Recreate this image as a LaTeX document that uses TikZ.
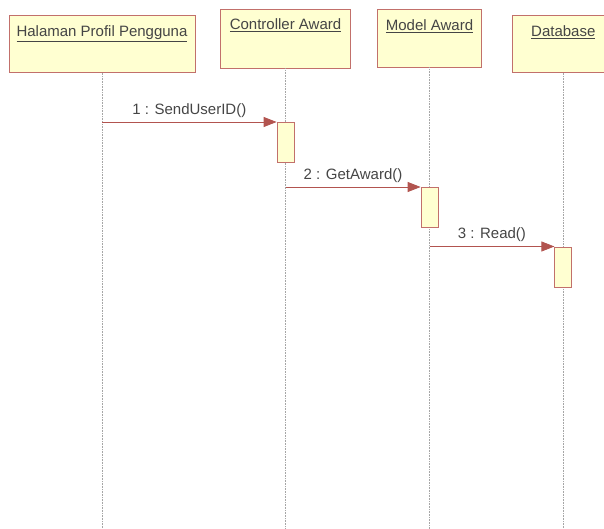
\documentclass[tikz,border=0pt]{standalone}
\usepackage{fontspec}
\setmainfont{Liberation Sans}
\usepackage{tikz}
\usetikzlibrary{arrows.meta, positioning}
\definecolor{headfill}{rgb}{1.00,1.00,0.82}
\definecolor{headline}{rgb}{0.76,0.44,0.42}
\definecolor{msgred}{rgb}{0.70,0.33,0.31}
\definecolor{textgray}{rgb}{0.27,0.27,0.27}

\begin{document}
\begin{tikzpicture}[
  x=1pt, y=1pt,
  objbox/.style   = {draw=headline, fill=headfill, line width=0.8pt, inner sep=0pt},
  objtext/.style  = {font=\fontsize{15}{18}\selectfont, text=textgray},
  actbox/.style   = {draw=headline, fill=headfill, line width=0.8pt, inner sep=0pt,
                     minimum width=17pt, minimum height=40pt},
  lifeline/.style = {draw=gray!70, densely dotted, line width=0.6pt},
  msg/.style      = {-{Triangle[length=13pt, width=10pt]}, draw=msgred, line width=0.8pt},
  msgtext/.style  = {font=\fontsize{15}{18}\selectfont, text=textgray, above=1pt, midway},
]
\useasboundingbox (0,0) rectangle (604,-529);
\coordinate (bottom) at (0,-529);

%% ==================== OBJECTS ====================
\node[objbox, minimum width=186pt, minimum height=57.5pt] (halaman) at (102,-43.75) {};
\node[objtext, anchor=north] (halamantext) at ([yshift=-8pt]halaman.north)
      {\underline{Halaman Profil Pengguna}};

\node[objbox, minimum width=130.5pt, minimum height=59pt] (controller) at (285.5,-38.5) {};
\node[objtext, anchor=north] (controllertext) at ([yshift=-7pt]controller.north)
      {\underline{Controller Award}};

\node[objbox, minimum width=104pt, minimum height=57.5pt] (model) at (429.5,-38.2) {};
\node[objtext, anchor=north] (modeltext) at ([yshift=-7pt]model.north)
      {\underline{Model Award}};

\node[objbox, minimum width=101pt, minimum height=57.5pt] (database) at (563.3,-43.75) {};
\node[objtext, anchor=north] (databasetext) at ([yshift=-8pt]database.north)
      {\underline{Database}};

%% Lifelines
\draw[lifeline] (halaman.south)    -- (halaman.south |- bottom);
\draw[lifeline] (controller.south) -- (controller.south |- bottom);
\draw[lifeline] (model.south)      -- (model.south |- bottom);
\draw[lifeline] (database.south)   -- (database.south |- bottom);

%% ==================== ACTIVATIONS ====================
\node[actbox, anchor=north] (act1) at (controller.south |- 0,-122) {};
\node[actbox, anchor=north] (act2) at (model.south |- 0,-187) {};
\node[actbox, anchor=north] (act3) at (database.south |- 0,-246.5) {};

%% ==================== MESSAGES ====================
\draw[msg] (halaman.south |- act1.north west) -- (act1.north west)
      node[msgtext] (msg1) {1 : SendUserID()};
\draw[msg] (controller.south |- act2.north west) -- (act2.north west)
      node[msgtext] (msg2) {2 : GetAward()};
\draw[msg] (model.south |- act3.north west) -- (act3.north west)
      node[msgtext] (msg3) {3 : Read()};

\end{tikzpicture}
\end{document}
